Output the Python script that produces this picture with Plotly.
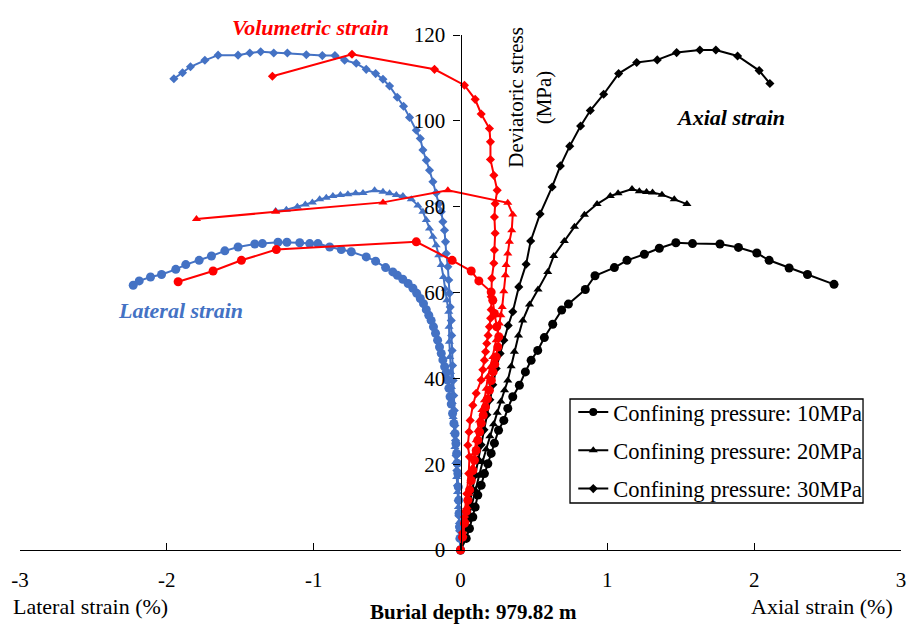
import plotly.graph_objects as go

# ---------------- data (strain in %, deviatoric stress in MPa) ----------------
tick_vals_x = [-3, -2, -1, 0, 1, 2, 3]
tick_text_x = ["-3", "-2", "-1", "0", "1", "2", "3"]
tick_vals_y = [0, 20, 40, 60, 80, 100, 120]

legend_names = ["Confining pressure: 10MPa", "Confining pressure: 20MPa", "Confining pressure: 30MPa"]

# Axial strain
ax10_x = [0, 0.039, 0.061, 0.084, 0.100, 0.118, 0.141, 0.163, 0.186, 0.209, 0.231, 0.259, 0.295, 0.322,
          0.356, 0.401, 0.442, 0.481, 0.526, 0.571, 0.628, 0.689, 0.735, 0.850, 0.916, 1.048, 1.134, 1.252,
          1.354, 1.467, 1.580, 1.767, 1.893, 2.018, 2.102, 2.238, 2.363, 2.544]
ax10_y = [0, 2.7, 5.0, 7.7, 10.0, 12.8, 15.1, 17.8, 20.1, 22.5, 24.9, 27.9, 30.2, 33.0,
          35.7, 38.4, 41.5, 44.2, 46.5, 49.5, 52.6, 55.9, 57.3, 60.7, 63.9, 65.8, 67.5, 68.9,
          70.3, 71.6, 71.4, 71.3, 70.5, 69.2, 67.5, 65.7, 64.2, 61.9]

ax20_x = [0, 0.025, 0.05, 0.075, 0.10, 0.125, 0.15, 0.175, 0.20, 0.225, 0.25, 0.275, 0.30, 0.322,
          0.345, 0.367, 0.395, 0.424, 0.47, 0.528, 0.594, 0.635, 0.707, 0.776, 0.844, 0.930, 1.020,
          1.073, 1.168, 1.218, 1.267, 1.308, 1.372, 1.456, 1.542]
ax20_y = [0, 3.5, 7, 10.5, 14, 17.3, 20.5, 23.5, 26.5, 29.3, 32, 34.6, 37.2, 39.5,
          42.8, 46.2, 50, 53.5, 57.2, 60.7, 64.8, 68.5, 72.0, 75.3, 78.1, 80.6, 82.5,
          83.1, 84.1, 83.6, 83.4, 83.3, 82.8, 81.7, 80.6]

ax30_x = [0, 0.02, 0.04, 0.06, 0.08, 0.10, 0.12, 0.14, 0.16, 0.18, 0.20, 0.22, 0.243, 0.27, 0.295,
          0.325, 0.356, 0.397, 0.447, 0.478, 0.542, 0.624, 0.680, 0.744, 0.818, 0.884, 0.975, 1.077,
          1.200, 1.340, 1.472, 1.630, 1.739, 1.887, 2.034, 2.107]
ax30_y = [0, 3.5, 7, 10.5, 14, 17.5, 21, 24.5, 28, 31.5, 35, 38.5, 42.3, 45.8, 48.9,
          52.3, 55.5, 61.3, 66.6, 72.0, 78.3, 84.6, 89.5, 94.1, 98.8, 102.4, 106.2, 111.0,
          113.6, 114.2, 115.9, 116.5, 116.5, 115.1, 111.7, 108.7]

# Lateral strain
lat10_x = [0, -0.004, -0.007, -0.010, -0.012, -0.015, -0.018, -0.022, -0.026, -0.031, -0.037, -0.045,
           -0.054, -0.063, -0.071, -0.079, -0.088, -0.097, -0.108, -0.12, -0.131, -0.143, -0.156, -0.17,
           -0.184, -0.2, -0.216, -0.233, -0.252, -0.274, -0.298, -0.324, -0.357, -0.393, -0.43, -0.461,
           -0.51, -0.578, -0.642, -0.744, -0.812, -0.891, -0.971, -1.027, -1.095, -1.182, -1.243, -1.349,
           -1.401, -1.515, -1.605, -1.696, -1.780, -1.871, -1.939, -2.036, -2.111, -2.188, -2.229]
lat10_y = [0, 2.7, 5.4, 8.5, 11.6, 14.7, 17.8, 20.2, 22.5, 24.8, 27.1, 29.5,
           31.8, 34, 35.7, 37.7, 39.6, 41.3, 42.7, 44.3, 45.8, 47.3, 48.9, 50.5,
           52.0, 53.5, 54.7, 56.0, 57.4, 58.6, 59.8, 61, 62.1, 63.1, 64.0, 64.8,
           65.8, 67.3, 68.3, 69.5, 70.0, 70.6, 71.4, 71.4, 71.6, 71.7, 71.7, 71.4,
           71.3, 70.6, 69.7, 68.5, 67.5, 66.5, 65.4, 64.2, 63.6, 62.7, 61.7]

lat20_x = [0, -0.003, -0.008, -0.014, -0.020, -0.026, -0.032, -0.038, -0.044, -0.050, -0.056, -0.062,
           -0.068, -0.073, -0.076, -0.078, -0.080, -0.093, -0.102, -0.116, -0.131, -0.148, -0.166, -0.188,
           -0.211, -0.233, -0.256, -0.290, -0.335, -0.392, -0.437, -0.483, -0.528, -0.585, -0.664, -0.714,
           -0.767, -0.818, -0.869, -0.914, -0.959, -1.009, -1.057, -1.111, -1.186, -1.259]
lat20_y = [0, 3, 6.5, 10, 13.5, 17, 20.5, 24, 27.5, 31, 34.5, 38,
           41.5, 45, 48.5, 52, 55.5, 58.2, 60.9, 63.6, 66.4, 68.7, 71.0, 73.0,
           74.9, 76.9, 78.8, 80.3, 81.7, 82.5, 82.7, 83.1, 83.5, 83.8, 83.2, 83.1,
           82.9, 82.7, 82.5, 82.1, 81.7, 81.0, 80.5, 80.0, 79.3, 79.0]

lat30_x = [0, -0.006, -0.011, -0.016, -0.021, -0.025, -0.030, -0.034, -0.038, -0.042, -0.046, -0.050,
           -0.054, -0.057, -0.060, -0.063, -0.070, -0.075, -0.080, -0.086, -0.097, -0.102, -0.109, -0.120,
           -0.131, -0.148, -0.166, -0.188, -0.211, -0.233, -0.256, -0.274, -0.301, -0.347, -0.388, -0.431,
           -0.483, -0.528, -0.578, -0.642, -0.710, -0.789, -0.855, -0.941, -1.050, -1.179, -1.272, -1.361,
           -1.435, -1.515, -1.651, -1.741, -1.839, -1.893, -1.952]
lat30_y = [0, 4.5, 8, 11.5, 15, 18.5, 22, 25.5, 29, 32.5, 36, 39.5,
           43, 46.5, 50, 53.5, 56.6, 59.8, 62.9, 66.0, 69.1, 71.8, 74.5, 76.5,
           78.8, 80.7, 83.2, 85.8, 88.5, 90.8, 93.2, 95.9, 97.8, 100.8, 103.4, 105.5,
           108.1, 109.7, 111.0, 112.0, 113.4, 114.1, 115.2, 115.2, 115.4, 115.8, 115.8, 116.1,
           115.8, 115.3, 115.3, 114.1, 112.6, 111.2, 109.8]

# Volumetric strain
vol10_x = [0, 0.014, 0.027, 0.04, 0.05, 0.062, 0.073, 0.084, 0.095, 0.107, 0.118, 0.13, 0.141, 0.155,
           0.170, 0.183, 0.197, 0.21, 0.222, 0.233, 0.243, 0.254, 0.261, 0.247, 0.231, 0.220, 0.209,
           0.125, 0.073, -0.057, -0.301, -1.254, -1.492, -1.685, -1.923]
vol10_y = [0, 3, 6.2, 9, 11.6, 14, 16.2, 18.5, 20.9, 23.2, 25.6, 27.5, 29.5, 31.4,
           33.3, 35.2, 37.2, 39.5, 41.5, 43.3, 45.0, 47.3, 49.7, 52.0, 55.1, 58.2, 60.1,
           62.7, 65.0, 67.5, 71.8, 70.0, 67.5, 65.0, 62.5]

vol20_x = [0, 0.017, 0.034, 0.045, 0.056, 0.07, 0.084, 0.095, 0.107, 0.118, 0.129, 0.146, 0.163, 0.175,
           0.186, 0.203, 0.220, 0.243, 0.265, 0.275, 0.284, 0.295, 0.306, 0.311, 0.322, 0.333, 0.349,
           0.356, 0.322, -0.086, -0.528, -1.259, -1.798]
vol20_y = [0, 3.5, 6.9, 10, 13.1, 16.2, 19.3, 22.5, 25.6, 27.9, 30.2, 32.6, 34.9, 37.6,
           40.3, 42.6, 45.0, 48.9, 52.8, 54.7, 56.6, 60.3, 64.0, 66.4, 69.1, 71.8, 74.5,
           78.2, 80.9, 83.8, 81.0, 78.8, 77.1]

vol30_x = [0, 0.014, 0.027, 0.043, 0.056, 0.061, 0.05, 0.058, 0.066, 0.084, 0.107, 0.141, 0.152,
           0.163, 0.171, 0.179, 0.188, 0.197, 0.205, 0.209, 0.209, 0.213, 0.227, 0.231, 0.236, 0.231,
           0.236, 0.250, 0.227, 0.204, 0.204, 0.197, 0.141, 0.10, 0.027, -0.177, -0.739, -1.281]
vol30_y = [0, 4, 7.7, 13.1, 17.8, 21.7, 24.4, 27.5, 30.2, 33.7, 36.5, 39.6, 42,
           44.2, 46.2, 48.1, 50, 52.0, 54, 56, 59, 63.3, 66.8, 69.9, 73.8, 77.6,
           80.7, 83.8, 87.3, 91.0, 95.1, 98.2, 101.6, 105.0, 108.3, 112.0, 115.5, 110.4]

# ---------------- styling ----------------
BLACK = "#000000"
BLUE = "#4472C4"
RED = "#FF0000"
FONT = "Liberation Serif"

fig = go.Figure()

def add_series(x, y, color, symbol, size):
    fig.add_trace(go.Scatter(
        x=x, y=y, mode="lines+markers",
        line=dict(color=color, width=2),
        marker=dict(symbol=symbol, size=size, color=color),
        showlegend=False, cliponaxis=False, hoverinfo="skip"))

add_series(ax10_x, ax10_y, BLACK, "circle", 9)
add_series(ax20_x, ax20_y, BLACK, "triangle-up", 8)
add_series(ax30_x, ax30_y, BLACK, "diamond", 7)

add_series(lat10_x, lat10_y, BLUE, "circle", 9)
add_series(lat20_x, lat20_y, BLUE, "triangle-up", 8)
add_series(lat30_x, lat30_y, BLUE, "diamond", 7)

add_series(vol10_x, vol10_y, RED, "circle", 9)
add_series(vol20_x, vol20_y, RED, "triangle-up", 8)
add_series(vol30_x, vol30_y, RED, "diamond", 7)

for name, sym, sz in zip(legend_names, ["circle", "triangle-up", "diamond"], [8, 8, 7]):
    fig.add_trace(go.Scatter(
        x=[None], y=[None], mode="lines+markers", name=name, legendgroup=name,
        line=dict(color=BLACK, width=2),
        marker=dict(symbol=sym, size=sz, color=BLACK)))

fig.update_layout(
    width=909, height=627,
    margin=dict(l=20, r=8, t=35, b=77, autoexpand=False),
    plot_bgcolor="white", paper_bgcolor="white",
    font=dict(family=FONT, size=22, color="black"),
    showlegend=True,
    legend=dict(x=0.628, y=0.3088, xanchor="left", yanchor="top",
                borderwidth=0, bgcolor="rgba(0,0,0,0)",
                font=dict(family=FONT, size=22.5, color="black"),
                traceorder="grouped", tracegroupgap=6, itemwidth=30),
    xaxis=dict(range=[-3, 3], tickvals=tick_vals_x, ticktext=tick_text_x,
               ticks="inside", ticklen=7, tickwidth=1.3, tickcolor="black",
               showline=True, linecolor="black", linewidth=1.3, automargin=False,
               showgrid=False, zeroline=False, ticklabelstandoff=11,
               tickfont=dict(family=FONT, size=21, color="black")),
    yaxis=dict(range=[0, 120], tickvals=tick_vals_y,
               ticks="outside", ticklen=7, tickwidth=1.3, tickcolor="black",
               showline=True, linecolor="black", linewidth=1.3, automargin=False,
               showgrid=False, zeroline=False, anchor="free", position=0.5,
               ticklabelstandoff=4,
               tickfont=dict(family=FONT, size=21, color="black")),
    shapes=[dict(type="rect", xref="paper", yref="paper",
                 x0=0.6243, x1=0.9569, y0=0.0913, y1=0.2932,
                 line=dict(color="black", width=1.3), fillcolor="white", layer="below")],
)

ann = [
    dict(x=-1.02, y=1.0155, xref="x", yref="paper", text="<b><i>Volumetric strain</i></b>",
         font=dict(family=FONT, size=22, color=RED)),
    dict(x=1.84, y=100.8, xref="x", yref="y", text="<b><i>Axial strain</i></b>",
         font=dict(family=FONT, size=22, color=BLACK)),
    dict(x=-1.905, y=55.9, xref="x", yref="y", text="<b><i>Lateral strain</i></b>",
         font=dict(family=FONT, size=22, color=BLUE)),
    dict(x=0.47, y=105.5, xref="x", yref="y", text="Deviatoric stress<br>(MPa)", textangle=-90,
         font=dict(family=FONT, size=21, color=BLACK)),
    dict(x=-2.52, y=-0.109, xref="x", yref="paper", text="Lateral strain (%)",
         font=dict(family=FONT, size=22, color=BLACK), yanchor="middle"),
    dict(x=2.46, y=-0.109, xref="x", yref="paper", text="Axial strain (%)",
         font=dict(family=FONT, size=22, color=BLACK), yanchor="middle"),
    dict(x=0.086, y=-0.1476, xref="x", yref="paper", text="<b>Burial depth: 979.82 m</b>",
         font=dict(family=FONT, size=21, color=BLACK), yanchor="bottom"),
]
for a in ann:
    a.setdefault("yanchor", "middle")
    a.update(showarrow=False, xanchor="center")
fig.update_layout(annotations=ann)

fig.write_html("out.html")
